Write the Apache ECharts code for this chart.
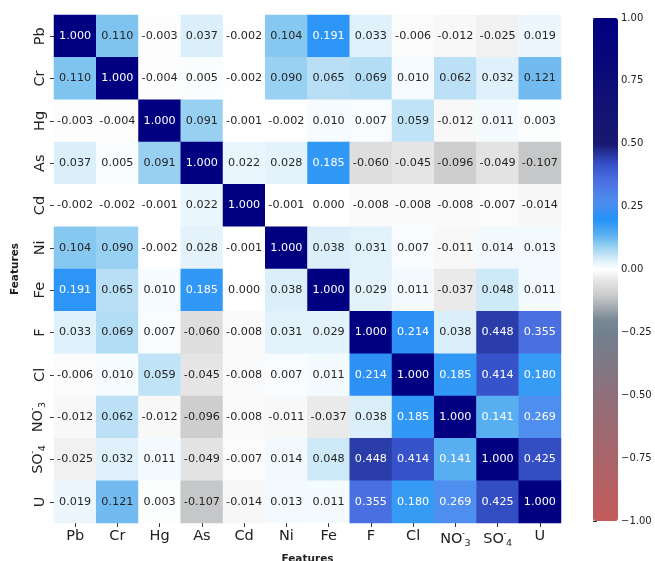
<!DOCTYPE html>
<html><head><meta charset="utf-8">
<script src="https://cdn.jsdelivr.net/npm/echarts@6/dist/echarts.min.js"></script>
<style>html,body{margin:0;padding:0;background:#fff}#c{width:655px;height:561px}</style>
</head><body><div id="c"></div>
<script>
const features = ['Pb','Cr','Hg','As','Cd','Ni','Fe','F','Cl','NO3','SO4','U'];
const rowPb  = [1.000, 0.110, -0.003, 0.037, -0.002, 0.104, 0.191, 0.033, -0.006, -0.012, -0.025, 0.019];
const rowCr  = [0.110, 1.000, -0.004, 0.005, -0.002, 0.090, 0.065, 0.069, 0.010, 0.062, 0.032, 0.121];
const rowHg  = [-0.003, -0.004, 1.000, 0.091, -0.001, -0.002, 0.010, 0.007, 0.059, -0.012, 0.011, 0.003];
const rowAs  = [0.037, 0.005, 0.091, 1.000, 0.022, 0.028, 0.185, -0.060, -0.045, -0.096, -0.049, -0.107];
const rowCd  = [-0.002, -0.002, -0.001, 0.022, 1.000, -0.001, 0.000, -0.008, -0.008, -0.008, -0.007, -0.014];
const rowNi  = [0.104, 0.090, -0.002, 0.028, -0.001, 1.000, 0.038, 0.031, 0.007, -0.011, 0.014, 0.013];
const rowFe  = [0.191, 0.065, 0.010, 0.185, 0.000, 0.038, 1.000, 0.029, 0.011, -0.037, 0.048, 0.011];
const rowF   = [0.033, 0.069, 0.007, -0.060, -0.008, 0.031, 0.029, 1.000, 0.214, 0.038, 0.448, 0.355];
const rowCl  = [-0.006, 0.010, 0.059, -0.045, -0.008, 0.007, 0.011, 0.214, 1.000, 0.185, 0.414, 0.180];
const rowNO3 = [-0.012, 0.062, -0.012, -0.096, -0.008, -0.011, -0.037, 0.038, 0.185, 1.000, 0.141, 0.269];
const rowSO4 = [-0.025, 0.032, 0.011, -0.049, -0.007, 0.014, 0.048, 0.448, 0.414, 0.141, 1.000, 0.425];
const rowU   = [0.019, 0.121, 0.003, -0.107, -0.014, 0.013, 0.011, 0.355, 0.180, 0.269, 0.425, 1.000];
const matrix = [rowPb, rowCr, rowHg, rowAs, rowCd, rowNi, rowFe, rowF, rowCl, rowNO3, rowSO4, rowU];
const colorbarMin = -1, colorbarMax = 1, colorbarStep = 0.25;
const axisTitle = 'Features';

// colormap (style)
const cmapStops = [
  [-1.0, '#c45a5c'], [-0.75, '#a86469'], [-0.5, '#8f6f7a'], [-0.25, '#708090'],
  [-0.2, '#7a8896'], [-0.1, '#cccccc'], [-0.05, '#e2e2e2'], [0, '#ffffff'],
  [0.04, '#d8eefa'], [0.1, '#8ccbf0'], [0.14, '#58aef0'], [0.2, '#2491f7'],
  [0.27, '#4f8eee'], [0.355, '#4a6fe0'], [0.42, '#3550c8'], [0.5, '#191970'], [1.0, '#000080']
];
function hex2rgb(h){return [parseInt(h.substr(1,2),16),parseInt(h.substr(3,2),16),parseInt(h.substr(5,2),16)];}
function cmap(v){
  for(let k=0;k<cmapStops.length-1;k++){
    const a=cmapStops[k], b=cmapStops[k+1];
    if(v>=a[0] && v<=b[0]){
      const t=(v-a[0])/(b[0]-a[0]); const ca=hex2rgb(a[1]), cb=hex2rgb(b[1]);
      return ca.map((x,i)=>Math.round(x+(cb[i]-x)*t));
    }
  }
  return hex2rgb(v<0?cmapStops[0][1]:cmapStops[cmapStops.length-1][1]);
}
function rgbStr(c){return 'rgb('+c[0]+','+c[1]+','+c[2]+')';}
function lum(c){
  const l=c.map(x=>{x/=255;return x<=0.03928?x/12.92:Math.pow((x+0.055)/1.055,2.4);});
  return 0.2126*l[0]+0.7152*l[1]+0.0722*l[2];
}
const gradColors=[];
for(let i=0;i<=400;i++){gradColors.push(rgbStr(cmap(colorbarMin+(colorbarMax-colorbarMin)*i/400)));}

const data=[];
matrix.forEach((row,i)=>row.forEach((v,j)=>{
  data.push({value:[j,i,v],label:{color: lum(cmap(v))>0.408?'#262626':'#ffffff'}});
}));

function fmtFeature(v){
  if(v==='NO3') return 'NO{sp|-}{sb|3}';
  if(v==='SO4') return 'SO{sp|-}{sb|4}';
  return v;
}
const FONT='DejaVu Sans';
const richStyles={
  sp:{fontSize:8,width:0,padding:[0,0,11,1],color:'#222',fontFamily:FONT},
  sb:{fontSize:9.5,padding:[10,0,0,1],color:'#222',fontFamily:FONT}
};

const chart=echarts.init(document.getElementById('c'),null,{renderer:'canvas'});
chart.setOption({
  animation:false,
  backgroundColor:'#ffffff',
  textStyle:{fontFamily:FONT},
  grid:[
    {left:54,top:15,width:507,height:508,containLabel:false,outerBoundsMode:'none'},
    {left:593,top:18,width:25,height:503,containLabel:false,outerBoundsMode:'none'}
  ],
  xAxis:[
    {type:'category',gridIndex:0,data:features,position:'bottom',
     axisLine:{show:false},splitLine:{show:false},
     axisTick:{show:true,alignWithLabel:true,interval:0,length:4,lineStyle:{color:'#333',width:1}},
     axisLabel:{interval:0,margin:6,fontSize:14.5,color:'#222',fontFamily:FONT,formatter:fmtFeature,rich:richStyles},
     name:axisTitle,nameLocation:'middle',nameGap:25,
     nameTextStyle:{fontWeight:'bold',fontSize:10.5,color:'#222',fontFamily:FONT}},
    {type:'value',gridIndex:1,show:false,min:0,max:1}
  ],
  yAxis:[
    {type:'category',gridIndex:0,data:features,inverse:true,
     axisLine:{show:false},splitLine:{show:false},
     axisTick:{show:true,alignWithLabel:true,interval:0,length:4,lineStyle:{color:'#333',width:1}},
     axisLabel:{interval:0,margin:6,fontSize:14.5,rotate:90,color:'#222',fontFamily:FONT,formatter:fmtFeature,rich:richStyles},
     name:axisTitle,nameLocation:'middle',nameGap:31,nameRotate:90,
     nameTextStyle:{fontWeight:'bold',fontSize:10.5,color:'#222',fontFamily:FONT}},
    {type:'value',gridIndex:1,position:'right',min:colorbarMin,max:colorbarMax,interval:colorbarStep,
     axisLine:{show:false},splitLine:{show:false},
     axisTick:{show:true,length:4,lineStyle:{color:'#333',width:1}},
     axisLabel:{margin:3,fontSize:10,color:'#222',fontFamily:FONT,
       formatter:v=>(v<0?'\u2212':'')+Math.abs(v).toFixed(2)}}
  ],
  visualMap:{
    type:'continuous',min:colorbarMin,max:colorbarMax,seriesIndex:0,calculable:false,
    orient:'vertical',left:593,top:18,itemWidth:25,itemHeight:503,padding:0,
    showLabel:false,text:null,inRange:{color:gradColors}
  },
  series:[{
    type:'heatmap',xAxisIndex:0,yAxisIndex:0,data:data,
    label:{show:true,fontSize:11.2,fontFamily:FONT,formatter:p=>p.value[2].toFixed(3)},
    itemStyle:{borderWidth:0},
    emphasis:{disabled:true}
  }]
});
</script></body></html>
